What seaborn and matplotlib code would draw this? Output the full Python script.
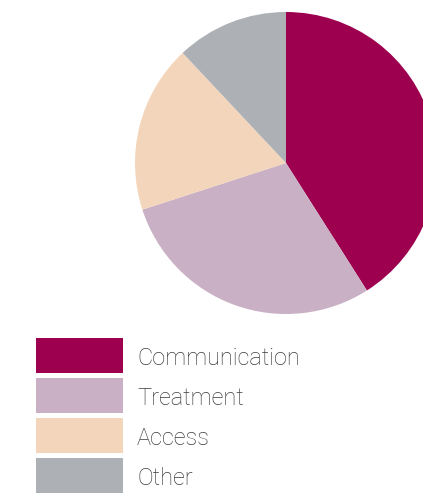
import matplotlib
matplotlib.use("Agg")
import matplotlib.pyplot as plt
import matplotlib.patches as mpatches
import seaborn as sns

categories = ["Communication", "Treatment", "Access", "Other"]
values = [41, 29, 18, 12]
colors = ["#9E0050", "#C9B0C4", "#F3D5BB", "#ADB1B5"]

sns.set_theme(style="white")
plt.rcParams["font.family"] = ["Roboto", "DejaVu Sans"]

W, H = 423, 493
fig = plt.figure(figsize=(W / 100, H / 100), dpi=100)
cx, cy, r = 286, 163, 151
ax = fig.add_axes([(cx - r) / W, (H - cy - r) / H, 2 * r / W, 2 * r / H])
ax.pie(values, colors=colors, startangle=90, counterclock=False,
       wedgeprops=dict(linewidth=0))
ax.set_xlim(-1, 1)
ax.set_ylim(-1, 1)
ax.set_aspect("equal")
ax.axis("off")

# legend drawn as boxes + labels in figure pixel space
box_x, box_w, box_h, top0, step, text_x = 36, 87, 35, 338, 40, 137
for i, (lab, c) in enumerate(zip(categories, colors)):
    top = top0 + i * step
    fig.add_artist(mpatches.Rectangle((box_x / W, 1 - (top + box_h) / H),
                                      box_w / W, box_h / H,
                                      facecolor=c, edgecolor="none",
                                      transform=fig.transFigure))
    fig.text(text_x / W, 1 - (top + box_h / 2 + 3) / H, lab,
             fontsize=16.9, fontweight="light", color="#3c3c3c",
             va="center", ha="left")

fig.savefig("out.png", dpi=100)
